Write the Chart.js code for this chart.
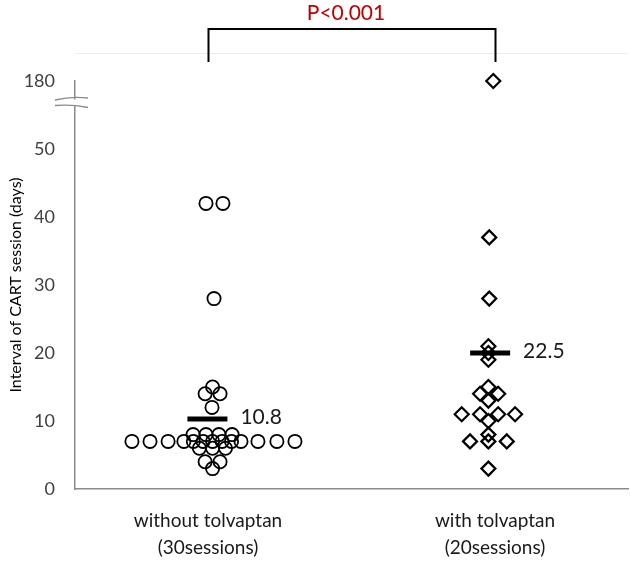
<!DOCTYPE html>
<html>
<head>
<meta charset="utf-8">
<script src="https://cdn.jsdelivr.net/npm/chart.js@4"></script>
<style>
    body { margin: 0; background: #fff; }
    canvas { display: block; }
</style>
</head>
<body>
<canvas id="chart" width="630" height="564"></canvas>
<script>
// Scatter of CART session intervals, with / without tolvaptan

const groupNames = ['without tolvaptan', 'with tolvaptan'];
const groupSessions = ['(30sessions)', '(20sessions)'];

// values (days) and swarm positions (category units)
const withoutValues = [42, 42, 28, 15, 14, 14, 12,
    8, 8, 8, 8,
    7, 7, 7, 7, 7, 7, 7,
    7, 7, 7, 7, 7, 7,
    6, 6, 6,
    4, 4, 3];
const withoutX = [0.993, 1.052, 1.021, 1.016, 0.990, 1.042, 1.014,
    0.948, 0.993, 1.038, 1.084,
    0.916, 0.949, 0.983, 1.016, 1.049, 1.082, 1.115,
    0.735, 0.798, 0.861, 1.174, 1.240, 1.303,
    0.970, 1.016, 1.061,
    0.990, 1.042, 1.016];

const withValues = [180, 37, 28, 21, 20, 19, 15, 14, 14, 13,
    11, 11, 11, 11, 10, 8, 7, 7, 7, 3];
const withX = [1.994, 1.980, 1.980, 1.977, 1.977, 1.977, 1.977, 1.948, 2.011, 1.977,
    1.884, 1.948, 2.011, 2.070, 1.977, 1.977, 1.913, 1.977, 2.041, 1.977];

// mean markers: bar position as drawn, label as printed
const meanBarValues = [10.3, 20.0];
const meanBarX = [0.998, 1.983];
const meanLabels = ['10.8', '22.5'];

const pValueText = 'P<0.001';

// broken axis: everything above 50 sits on the "180" tick
const yTickValues = [0, 10, 20, 30, 40, 50, 60];
const yTickLabels = ['0', '10', '20', '30', '40', '50', '180'];
const BREAK_LIMIT = 50;
const BREAK_TOP = 60;

const FONT = 'Lato, "Open Sans", sans-serif';

function toAxis(v) {
    return v > BREAK_LIMIT ? BREAK_TOP : v;
}

function points(xs, ys) {
    return ys.map((y, i) => ({ x: xs[i], y: toAxis(y) }));
}

const annotations = {
    id: 'annotations',
    afterDatasetsDraw(chart) {
        const ctx = chart.ctx;
        const xs = chart.scales.x;
        const ys = chart.scales.y;
        const area = chart.chartArea;

        ctx.save();

        // faint frame line at top
        ctx.strokeStyle = '#ececec';
        ctx.lineWidth = 1;
        ctx.beginPath();
        ctx.moveTo(area.left, 53.5);
        ctx.lineTo(area.right, 53.5);
        ctx.stroke();

        // mean labels
        ctx.fillStyle = '#1a1a1a';
        ctx.font = '21px ' + FONT;
        ctx.textAlign = 'left';
        ctx.textBaseline = 'middle';
        meanLabels.forEach((label, i) => {
            const px = xs.getPixelForValue(meanBarX[i]) + 20 + 13;
            const py = ys.getPixelForValue(meanBarValues[i]) - 2;
            ctx.fillText(label, px, py);
        });

        // significance bracket
        const x1 = Math.round(xs.getPixelForValue(1)) + 0.5;
        const x2 = Math.round(xs.getPixelForValue(2)) + 0.5;
        ctx.strokeStyle = '#000';
        ctx.lineWidth = 2;
        ctx.beginPath();
        ctx.moveTo(x1, 62);
        ctx.lineTo(x1, 29);
        ctx.lineTo(x2, 29);
        ctx.lineTo(x2, 62);
        ctx.stroke();

        ctx.fillStyle = '#c00000';
        ctx.font = '21px ' + FONT;
        ctx.textAlign = 'center';
        ctx.fillText(pValueText, (x1 + x2) / 2 - 6, 13);

        // axis break marks
        const ax = area.left;
        ctx.fillStyle = '#fff';
        ctx.fillRect(ax - 3, 99.5, 6, 6.5);
        ctx.strokeStyle = '#8c8c8c';
        ctx.lineWidth = 1.3;
        ctx.beginPath();
        ctx.moveTo(ax - 20, 100);
        ctx.quadraticCurveTo(ax - 4, 96, ax + 13, 98);
        ctx.moveTo(ax - 20, 105.5);
        ctx.quadraticCurveTo(ax - 4, 104, ax + 13, 107.5);
        ctx.stroke();

        ctx.restore();
    }
};

const ctx = document.getElementById('chart').getContext('2d');

new Chart(ctx, {
    type: 'scatter',
    data: {
        datasets: [
            {
                label: groupNames[0],
                data: points(withoutX, withoutValues),
                pointStyle: 'circle',
                pointRadius: 6.6,
                borderWidth: 1.8,
                borderColor: '#000',
                backgroundColor: 'rgba(0,0,0,0)',
                clip: false
            },
            {
                label: groupNames[1],
                data: points(withX, withValues),
                pointStyle: 'rectRot',
                pointRadius: 7,
                borderWidth: 2.2,
                borderColor: '#000',
                backgroundColor: 'rgba(0,0,0,0)',
                clip: false
            },
            {
                label: 'mean',
                data: points(meanBarX, meanBarValues),
                pointStyle: 'line',
                pointRadius: 20,
                borderWidth: 5,
                borderColor: '#000',
                clip: false
            }
        ]
    },
    options: {
        responsive: false,
        animation: false,
        layout: {
            autoPadding: false,
            padding: { top: 81, right: 2, left: 0, bottom: 0 }
        },
        plugins: {
            legend: { display: false },
            tooltip: { enabled: false }
        },
        scales: {
            x: {
                type: 'linear',
                min: 0.5366,
                max: 2.4634,
                afterBuildTicks: (scale) => {
                    scale.ticks = [{ value: 1 }, { value: 2 }];
                },
                afterFit: (scale) => {
                    scale.height = 75;
                    scale.paddingLeft = 0;
                    scale.paddingRight = 0;
                },
                grid: { display: false, drawTicks: false },
                border: { display: true, color: '#8c8c8c', width: 1.5 },
                ticks: {
                    autoSkip: false,
                    maxRotation: 0,
                    padding: 19,
                    color: '#1a1a1a',
                    font: { family: FONT, size: 19, lineHeight: 1.4 },
                    callback: (v) => {
                        const i = Math.round(v) - 1;
                        return [groupNames[i], groupSessions[i]];
                    }
                }
            },
            y: {
                min: 0,
                max: BREAK_TOP,
                afterBuildTicks: (scale) => {
                    scale.ticks = yTickValues.map(v => ({ value: v }));
                },
                afterFit: (scale) => {
                    scale.width = 75;
                    scale.paddingTop = 0;
                    scale.paddingBottom = 0;
                },
                grid: { display: false, drawTicks: false },
                border: { display: true, color: '#8c8c8c', width: 1.5 },
                ticks: {
                    padding: 20,
                    color: '#404040',
                    font: { family: FONT, size: 18 },
                    callback: (v) => yTickLabels[yTickValues.indexOf(v)]
                },
                title: {
                    display: true,
                    text: 'Interval of CART session (days)',
                    color: '#000',
                    padding: { top: 6, bottom: 0 },
                    font: { family: FONT, size: 16 }
                }
            }
        }
    },
    plugins: [annotations]
});
</script>
</body>
</html>
